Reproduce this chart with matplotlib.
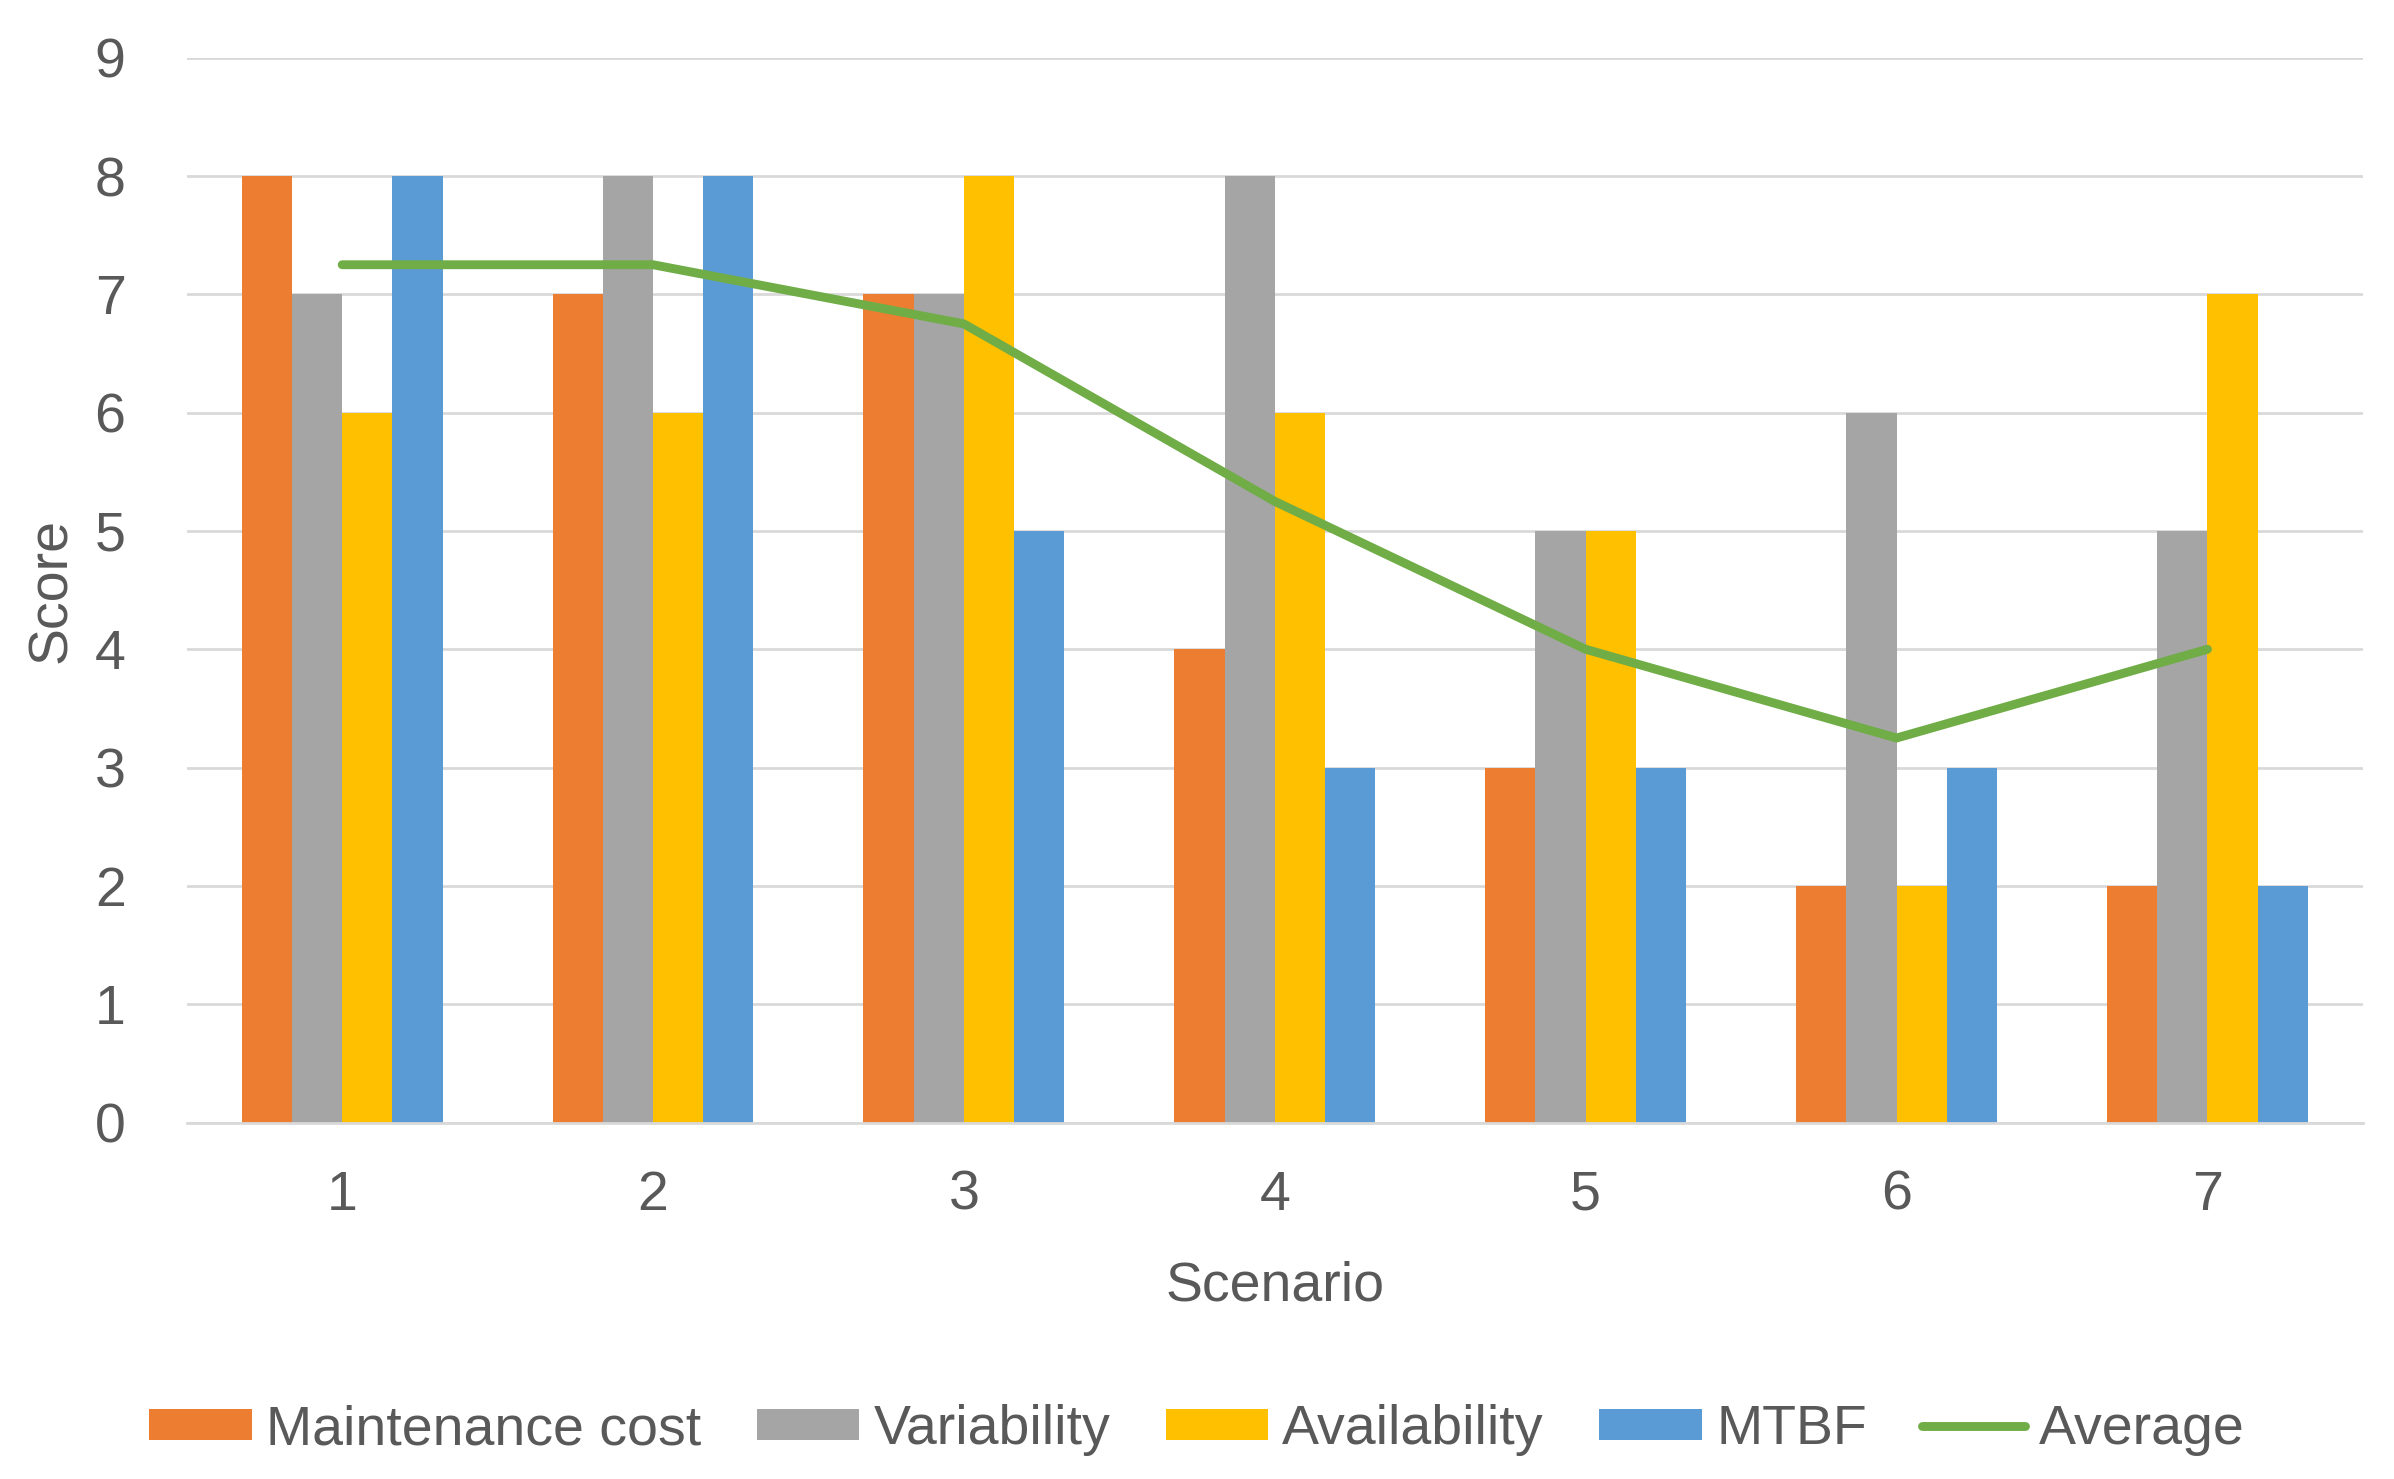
import matplotlib.pyplot as plt
import numpy as np

plt.rcParams['font.family'] = ['Liberation Sans', 'DejaVu Sans']

scenarios = ['1', '2', '3', '4', '5', '6', '7']
maintenance_cost = [8, 7, 7, 4, 3, 2, 2]
variability = [7, 8, 7, 8, 5, 6, 5]
availability = [6, 6, 8, 6, 5, 2, 7]
mtbf = [8, 8, 5, 3, 3, 3, 2]
average = [7.25, 7.25, 6.75, 5.25, 4, 3.25, 4]

series = [
    ('Maintenance cost', maintenance_cost, '#ED7D31'),
    ('Variability', variability, '#A5A5A5'),
    ('Availability', availability, '#FFC000'),
    ('MTBF', mtbf, '#5B9BD5'),
]

text_col = '#595959'
fs = 20
fig = plt.figure(figsize=(11.97, 7.395), dpi=200)
ax = fig.add_axes([0.078, 0.241, 0.909, 0.72])

x = np.arange(len(scenarios))
w = 1 / (4 + 2.19)
handles = []
for i, (name, vals, col) in enumerate(series):
    b = ax.bar(x + (i - 1.5) * w, vals, w, color=col, label=name, zorder=2)
    handles.append(b)
ln, = ax.plot(x, average, color='#70AD47', lw=3.2, label='Average', zorder=3,
              solid_capstyle='round')
handles.append(ln)

ax.set_xlim(-0.5, len(scenarios) - 0.5)
ax.set_ylim(0, 9)
ax.set_yticks(range(0, 10))
ax.set_xticks(x)
ax.set_xticklabels(scenarios)
ax.yaxis.grid(True, color='#D9D9D9', lw=1.0, zorder=0)
ax.set_axisbelow(True)
for s in ['top', 'right', 'left']:
    ax.spines[s].set_visible(False)
ax.spines['bottom'].set_color('#D9D9D9')
ax.spines['bottom'].set_linewidth(1.0)
ax.tick_params(axis='both', length=0, labelsize=fs, colors=text_col)
ax.tick_params(axis='x', pad=17)
ax.tick_params(axis='y', pad=22)
ax.set_xlabel('Scenario', fontsize=fs, color=text_col, labelpad=14)
ax.set_ylabel('Score', fontsize=fs, color=text_col, labelpad=6)

leg = fig.legend(handles=handles, loc='center', bbox_to_anchor=(0.5, 0.033),
                 ncol=5, frameon=False, fontsize=fs, handlelength=1.85,
                 handleheight=0.5, columnspacing=1.0, handletextpad=0.25)
for t in leg.get_texts():
    t.set_color(text_col)

fig.savefig('out.png', dpi=200)
